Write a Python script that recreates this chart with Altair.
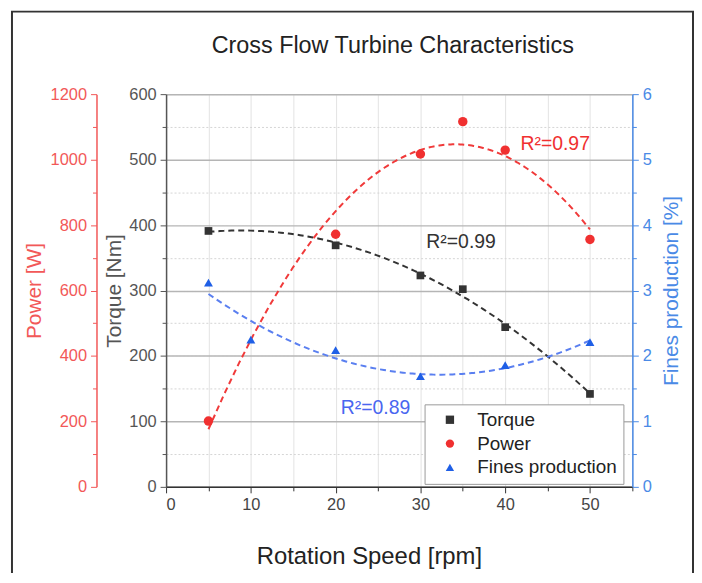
import altair as alt
import pandas as pd

# ---- data ----
speed_torque = [5, 20, 30, 35, 40, 50]
torque = [391, 369, 323, 302, 244, 142]
speed_power = [5, 20, 30, 35, 40, 50]
power = [201, 772, 1017, 1116, 1029, 756]
speed_fines = [5, 10, 20, 30, 40, 50]
fines = [3.12, 2.25, 2.09, 1.69, 1.86, 2.21]

series_names = ["Torque", "Power", "Fines production"]
series_colors = ["#333333", "#f03030", "#1f5fe6"]
series_shapes = ["square", "circle", "triangle-up"]

x_tick_values = list(range(0, 56, 5))
torque_tick_values = list(range(0, 601, 50))
power_tick_values = list(range(0, 1201, 100))
fines_tick_values = [i / 2 for i in range(0, 13)]

r2_labels = ["R²=0.99", "R²=0.97", "R²=0.89"]
r2_speed = [30.7, 41.8, 20.6]
r2_value = [374, 1048, 1.2]

chart_title = "Cross Flow Turbine Characteristics"

FONT = "Liberation Sans"
RED_AX = "#f25858"
BLUE_AX = "#4a8ae6"
GRAY_AX = "#555555"
TICK_FS = 16.5
AXTITLE_FS = 21

df_t = pd.DataFrame({"speed": speed_torque, "value": torque, "series": "Torque"})
df_p = pd.DataFrame({"speed": speed_power, "value": power, "series": "Power"})
df_f = pd.DataFrame({"speed": speed_fines, "value": fines, "series": "Fines production"})

x_enc = alt.X(
    "speed:Q",
    title="Rotation Speed [rpm]",
    scale=alt.Scale(domain=[0, 55], nice=False, zero=False),
    axis=alt.Axis(
        values=x_tick_values,
        format=".0f",
        labelExpr="datum.value % 10 === 0 ? datum.label : ''",
        grid=True,
        gridColor="#e3e3e3",
        gridWidth=1,
        domainColor="#333333",
        domainWidth=1.5,
        tickColor="#333333",
        tickSize={"condition": {"test": "datum.value % 10 === 0", "value": 6}, "value": 4},
        labelFont=FONT,
        labelFontSize=TICK_FS,
        labelColor="#444444",
        labelPadding=4,
        titleFont=FONT,
        titleFontSize=24,
        titleFontWeight="normal",
        titleColor="#222222",
        titleX=204,
        titleY=70,
        titleAlign="center",
        titleBaseline="middle",
    ),
)

color_enc = alt.Color(
    "series:N",
    title=None,
    scale=alt.Scale(domain=series_names, range=series_colors),
    legend=alt.Legend(
        orient="none",
        legendX=260,
        legendY=312,
        direction="vertical",
        strokeColor="#9a9a9a",
        fillColor="white",
        padding=6,
        labelFont=FONT,
        labelFontSize=19,
        labelColor="#222222",
        labelOffset=18,
        symbolSize=70,
        rowPadding=4,
        symbolOffset=10,
    ),
)
shape_enc = alt.Shape(
    "series:N",
    title=None,
    scale=alt.Scale(domain=series_names, range=series_shapes),
)


def group(df, color, axis, domain, title, idx, size, dash_color):
    y_enc = alt.Y(
        "value:Q",
        title=title,
        scale=alt.Scale(domain=domain, nice=False, zero=False),
        axis=axis,
    )
    base = alt.Chart(df).encode(x=x_enc, y=y_enc)
    fit = base.transform_regression(
        "speed", "value", method="poly", order=2, extent=[5, 50]
    ).mark_line(strokeDash=[6, 4], strokeWidth=2, color=dash_color)
    pts = base.mark_point(filled=True, opacity=1, size=size).encode(
        color=color_enc, shape=shape_enc
    )
    lab = pd.DataFrame({"speed": [r2_speed[idx]], "value": [r2_value[idx]], "label": [r2_labels[idx]]})
    txt = alt.Chart(lab).mark_text(
        align="left", baseline="middle", font=FONT, fontSize=19.5, color=color
    ).encode(x=x_enc, y=y_enc, text="label:N")
    return alt.layer(fit, pts, txt)


def y_axis(orient, offset, values, label_test, color, title_x, gridded):
    kw = dict(
        orient=orient,
        offset=offset,
        values=values,
        format=".0f",
        labelExpr=f"{label_test} ? datum.label : ''",
        grid=gridded,
        domainColor=color,
        domainWidth=1.5,
        tickColor=color,
        tickSize={"condition": {"test": label_test, "value": 6}, "value": 4},
        labelFont=FONT,
        labelFontSize=TICK_FS,
        labelColor=color,
        labelPadding=4,
        titleFont=FONT,
        titleFontSize=AXTITLE_FS,
        titleFontWeight="normal",
        titleColor=color,
        titleX=title_x,
        titleY=197.5,
        titleAngle=270,
        titleAlign="center",
        titleBaseline="middle",
    )
    if gridded:
        kw.update(
            gridColor={"condition": {"test": label_test, "value": "#b5b5b5"}, "value": "#d5d5d5"},
            gridDash={"condition": {"test": label_test, "value": [1, 0]}, "value": [2, 2]},
            gridWidth={"condition": {"test": label_test, "value": 1.5}, "value": 1},
        )
    return alt.Axis(**kw)


torque_axis = y_axis("left", 0, torque_tick_values, "datum.value % 100 === 0", GRAY_AX, -52, True)
power_axis = y_axis("left", 70, power_tick_values, "datum.value % 200 === 0", RED_AX, -62, False)
fines_axis = y_axis("right", 0, fines_tick_values, "datum.value % 1 === 0", BLUE_AX, 39, False)

g_t = group(df_t, "#333333", torque_axis, [0, 600], "Torque [Nm]", 0, 60, "#333333")
g_p = group(df_p, "#f03030", power_axis, [0, 1200], "Power [W]", 1, 90, "#f03a3a")
g_f = group(df_f, "#4a66f0", fines_axis, [0, 6], "Fines production [%]", 2, 80, "#5a7ff0")

frame = alt.Chart(pd.DataFrame({"a": [0]})).mark_rect(
    fillOpacity=0, stroke="#333333", strokeWidth=2
).encode(x=alt.value(-155), x2=alt.value(530), y=alt.value(-83), y2=alt.value(700))

title_txt = alt.Chart(pd.DataFrame({"t": [chart_title]})).mark_text(
    font=FONT, fontSize=23.5, color="#222222", align="center", baseline="middle"
).encode(text="t:N", x=alt.value(228), y=alt.value(-48))

chart = (
    alt.layer(frame, title_txt, g_t, g_p, g_f)
    .resolve_scale(y="independent")
    .properties(
        width=469,
        height=395,
        autosize=alt.AutoSizeParams(type="none"),
        padding={"left": 159, "top": 85, "right": 62, "bottom": 85},
    )
    .configure_view(stroke=None)
    .configure(background="white")
)

chart.save("out.html", embed_options={"renderer": "svg", "actions": False})
